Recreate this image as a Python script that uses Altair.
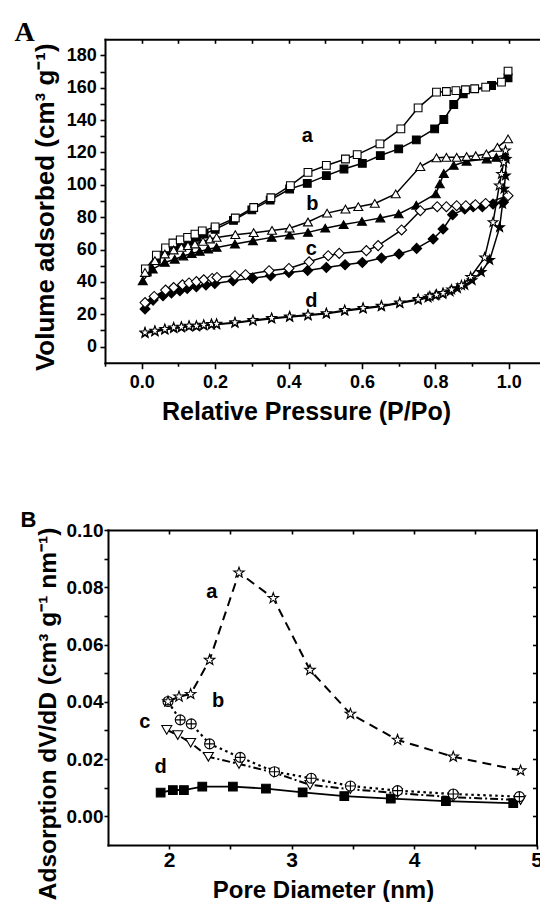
import altair as alt
import pandas as pd

# ---------------- Panel A : N2 sorption isotherms ----------------
# series a (squares): open = upper branch, filled = lower branch
a_open_p = [0.01, 0.04, 0.065, 0.085, 0.105, 0.125, 0.145, 0.165, 0.20, 0.255, 0.305, 0.352, 0.405, 0.453, 0.503, 0.555, 0.587, 0.649, 0.706, 0.753, 0.803, 0.830, 0.856, 0.882, 0.907, 0.937, 0.980, 0.998]
a_open_v = [48, 56.5, 61, 64, 66, 67.5, 69.5, 71.5, 74, 79.5, 86, 92, 99.5, 107.7, 112, 116, 118.7, 125.3, 134.6, 147.6, 157.3, 157.7, 158.3, 158.8, 159.4, 160.4, 163.5, 170.3]
a_fill_p = [0.015, 0.04, 0.065, 0.09, 0.11, 0.13, 0.15, 0.17, 0.20, 0.25, 0.30, 0.35, 0.403, 0.451, 0.503, 0.551, 0.601, 0.650, 0.700, 0.748, 0.798, 0.823, 0.850, 0.876, 0.953, 0.998]
a_fill_v = [46, 54, 59, 62, 64, 65.5, 67.5, 69.5, 72.5, 78, 84.5, 90.5, 97.4, 100.9, 105.7, 109.8, 113.3, 118.1, 122.2, 127.8, 134.6, 140.4, 149.7, 156.3, 161.4, 166.2]
# series b (triangles)
b_open_p = [0.009, 0.036, 0.063, 0.087, 0.108, 0.126, 0.145, 0.167, 0.186, 0.204, 0.255, 0.305, 0.355, 0.403, 0.453, 0.505, 0.555, 0.59, 0.635, 0.692, 0.759, 0.803, 0.830, 0.858, 0.885, 0.910, 0.939, 0.969, 0.998]
b_open_v = [45.8, 53.1, 57.2, 59.7, 61.3, 62.4, 63.4, 65, 66.5, 67.5, 69.2, 70.4, 71.8, 73.2, 77, 82.5, 85, 86.5, 88.5, 94.4, 111.3, 116.7, 117, 117, 117.5, 118, 119.1, 123.2, 128.4]
b_fill_p = [0.003, 0.03, 0.063, 0.09, 0.113, 0.136, 0.158, 0.181, 0.204, 0.254, 0.303, 0.354, 0.403, 0.453, 0.5, 0.55, 0.6, 0.65, 0.7, 0.748, 0.801, 0.812, 0.823, 0.85, 0.885, 0.94, 0.966, 0.99]
b_fill_v = [40.7, 47.9, 52, 54, 56, 57.5, 58.8, 60.2, 61.3, 63.4, 65.4, 67.5, 69, 70.6, 73.2, 75.4, 77.4, 79.5, 82, 87.4, 94.4, 100.6, 107, 112, 114.6, 116, 117, 118.5]
# series c (diamonds)
c_open_p = [0.009, 0.034, 0.065, 0.087, 0.111, 0.129, 0.149, 0.169, 0.192, 0.205, 0.254, 0.283, 0.347, 0.401, 0.456, 0.508, 0.538, 0.612, 0.644, 0.708, 0.759, 0.805, 0.830, 0.858, 0.883, 0.909, 0.937, 0.998]
c_open_v = [27.2, 31, 34.9, 36.5, 38.2, 39.3, 40.2, 41.3, 42.1, 42.7, 43.8, 44.4, 46.9, 48.3, 52.4, 56.2, 57.6, 59.3, 62.4, 72.1, 84, 86.5, 86.5, 87.1, 87.1, 87.7, 88.5, 93.3]
c_fill_p = [0.009, 0.031, 0.058, 0.081, 0.104, 0.124, 0.149, 0.175, 0.199, 0.249, 0.302, 0.351, 0.401, 0.452, 0.503, 0.554, 0.601, 0.653, 0.701, 0.749, 0.794, 0.821, 0.847, 0.880, 0.903, 0.928, 0.957, 0.985]
c_fill_v = [23.2, 28.7, 31.4, 33.1, 34.5, 35.9, 37, 38, 39, 40.7, 42.3, 43.8, 45.8, 47, 48.9, 50.6, 52, 54.7, 57.2, 60.7, 66.5, 72.7, 81.5, 85.1, 86.5, 86.5, 88.2, 89.2]
# series d (stars)
d_open_p = [0.009, 0.036, 0.063, 0.087, 0.108, 0.129, 0.149, 0.169, 0.19, 0.204, 0.254, 0.303, 0.354, 0.403, 0.453, 0.503, 0.553, 0.603, 0.653, 0.703, 0.753, 0.785, 0.803, 0.821, 0.844, 0.871, 0.896, 0.934, 0.957, 0.974, 0.980, 0.986, 0.991]
d_open_v = [8.7, 9.7, 10.8, 11.8, 12.2, 12.8, 12.8, 13.4, 13.9, 14, 14.9, 16.3, 17.6, 18.6, 19.6, 20.6, 22.5, 23.8, 25.2, 27.2, 29.3, 31, 32, 33, 35.2, 37.8, 43, 55, 76.8, 99.5, 106.7, 113.9, 121.2]
d_fill_p = [0.009, 0.036, 0.063, 0.087, 0.108, 0.129, 0.149, 0.169, 0.19, 0.204, 0.254, 0.303, 0.354, 0.403, 0.453, 0.503, 0.553, 0.603, 0.653, 0.703, 0.753, 0.78, 0.80, 0.82, 0.84, 0.86, 0.88, 0.90, 0.925, 0.948, 0.975, 0.983, 0.987, 0.991, 0.993]
d_fill_v = [8.2, 9.2, 10.3, 11.2, 11.7, 12.3, 12.4, 12.9, 13.4, 13.6, 14.5, 15.9, 17.2, 18.2, 19.2, 20.2, 22, 23.4, 24.8, 26.7, 28.8, 30.2, 31.5, 32.5, 34, 36, 38, 41, 46, 53.5, 73.7, 88.2, 97.5, 105.7, 116]

A_tags = ["a", "b", "c", "d"]
A_tag_p = [0.451, 0.465, 0.462, 0.462]
A_tag_v = [126.7, 84.4, 56.6, 24.6]

A_x_major = [0.0, 0.2, 0.4, 0.6, 0.8, 1.0]
A_x_minor = [-0.1, 0.1, 0.3, 0.5, 0.7, 0.9]
A_x_top = [round(0.1 * i, 1) for i in range(0, 11)]
A_y_major = [0, 20, 40, 60, 80, 100, 120, 140, 160, 180]
A_y_minor = [10, 30, 50, 70, 90, 110, 130, 150, 170]

# ---------------- Panel B : pore size distribution ----------------
Ba_d = [1.99, 2.08, 2.175, 2.33, 2.57, 2.85, 3.15, 3.48, 3.865, 4.32, 4.87]
Ba_v = [0.0401, 0.0418, 0.0427, 0.0546, 0.0851, 0.0762, 0.0511, 0.0358, 0.0267, 0.0208, 0.0160]
Bb_d = [1.99, 2.09, 2.18, 2.33, 2.58, 2.86, 3.16, 3.48, 3.865, 4.32, 4.86]
Bb_v = [0.0401, 0.0337, 0.0323, 0.0253, 0.0206, 0.0156, 0.0133, 0.0106, 0.0090, 0.0078, 0.0069]
Bc_d = [1.98, 2.07, 2.175, 2.32, 2.57, 2.855, 3.15, 3.48, 3.865, 4.32, 4.87]
Bc_v = [0.0302, 0.0284, 0.0257, 0.0208, 0.0183, 0.0153, 0.0110, 0.0095, 0.0081, 0.0067, 0.0057]
Bd_d = [1.93, 2.03, 2.12, 2.27, 2.52, 2.79, 3.09, 3.43, 3.81, 4.26, 4.81]
Bd_v = [0.0083, 0.0092, 0.0092, 0.0104, 0.0104, 0.0097, 0.0084, 0.0071, 0.0062, 0.0053, 0.0046]

B_tags = ["a", "b", "c", "d"]
B_tag_d = [2.347, 2.40, 1.80, 1.93]
B_tag_v = [0.0762, 0.0383, 0.0308, 0.0150]

B_x_major = [2, 3, 4, 5]
B_x_minor = [2.5, 3.5, 4.5]
B_x_top = [2, 2.5, 3, 3.5, 4, 4.5]
B_y_major = [0.0, 0.02, 0.04, 0.06, 0.08, 0.10]
B_y_minor = [0.01, 0.03, 0.05, 0.07, 0.09]
B_y_right = [0.0, 0.01, 0.02, 0.03, 0.04, 0.05, 0.06, 0.07, 0.08, 0.09]

# ---------------- styling ----------------
FONT = "Liberation Sans"
STAR = "M0,-1L0.235,-0.324L0.951,-0.309L0.38,0.124L0.588,0.809L0,0.4L-0.588,0.809L-0.38,0.124L-0.951,-0.309L-0.235,-0.324Z"
CROSS_CIRCLE = "M-1,0A1,1,0,1,1,1,0A1,1,0,1,1,-1,0ZM-1,0L1,0M0,-1L0,1"


def sc(domain, rng):
    return alt.Scale(domain=domain, range=rng, nice=False, zero=False)


AXS = sc([-0.1, 1.085], [105, 540])
AYS = sc([-10, 190], [362.7, 39.3])
BXS = sc([1.5, 5.0], [108, 536.5])
BYS = sc([-0.01, 0.10], [845, 530])

BASE = dict(grid=False, domainColor="black", domainWidth=2, domainCap="square",
            tickColor="black", tickWidth=1.6, labelColor="black", labelFont=FONT,
            labelFontWeight="bold", titleColor="black", titleFont=FONT,
            titleFontWeight="bold", labelFlush=False, labelOverlap=False, zindex=1)


def ax(**kw):
    d = dict(BASE)
    d.update(kw)
    return alt.Axis(**d)


def series(xv, yv, xs, ys, shape, fill, size, **line_kw):
    df = pd.DataFrame({"x": xv, "y": yv})
    enc = dict(x=alt.X("x:Q", scale=xs, axis=None), y=alt.Y("y:Q", scale=ys, axis=None))
    line = alt.Chart(df).mark_line(color="black", **line_kw).encode(**enc)
    pts = alt.Chart(df).mark_point(shape=shape, filled=True, fill=fill, stroke="black",
                                   strokeWidth=1.1, size=size, opacity=1).encode(**enc)
    return line, pts


def axis_layer(xv, yv, xs, ys, xaxis, yaxis):
    df = pd.DataFrame({"x": xv[:1], "y": yv[:1]})
    return alt.Chart(df).mark_point(opacity=0).encode(
        x=alt.X("x:Q", scale=xs, axis=xaxis), y=alt.Y("y:Q", scale=ys, axis=yaxis))


def tags(t, xv, yv, xs, ys):
    df = pd.DataFrame({"x": xv, "y": yv, "t": t})
    return alt.Chart(df).mark_text(font=FONT, fontWeight="bold", fontSize=20, align="center",
                                   baseline="alphabetic", color="black").encode(
        x=alt.X("x:Q", scale=xs, axis=None), y=alt.Y("y:Q", scale=ys, axis=None), text="t:N")


lines, points = [], []
A_specs = [
    (a_fill_p, a_fill_v, "square", "black", 60), (a_open_p, a_open_v, "square", "white", 60),
    (b_fill_p, b_fill_v, "triangle-up", "black", 80), (b_open_p, b_open_v, "triangle-up", "white", 80),
    (c_fill_p, c_fill_v, "diamond", "black", 100), (c_open_p, c_open_v, "diamond", "white", 100),
    (d_fill_p, d_fill_v, STAR, "black", 100), (d_open_p, d_open_v, STAR, "white", 100),
]
for xv, yv, shp, fl, sz in A_specs:
    l, p = series(xv, yv, AXS, AYS, shp, fl, sz, strokeWidth=1.5)
    lines.append(l)
    points.append(p)

B_specs = [
    (Bd_d, Bd_v, "square", "black", 75, dict(strokeWidth=1.8)),
    (Bc_d, Bc_v, "triangle-down", "white", 100, dict(strokeWidth=2, strokeDash=[8, 3, 2, 3])),
    (Bb_d, Bb_v, CROSS_CIRCLE, "white", 100, dict(strokeWidth=2.2, strokeDash=[2.5, 3.5])),
    (Ba_d, Ba_v, STAR, "white", 120, dict(strokeWidth=2, strokeDash=[9, 6])),
]
for xv, yv, shp, fl, sz, lk in B_specs:
    l, p = series(xv, yv, BXS, BYS, shp, fl, sz, **lk)
    lines.append(l)
    points.append(p)

axes = [
    # Panel A
    axis_layer(a_open_p, a_open_v, AXS, AYS,
               ax(orient="bottom", offset=-539.3, values=A_x_major, format=".1f", labelFontSize=18,
                  tickSize=6, labelPadding=5, domain=True, title="Relative Pressure (P/Po)",
                  titleFontSize=25, titleX=306, titleY=37.1, titleAlign="center",
                  titleBaseline="top", titleAngle=0),
               ax(orient="left", offset=-105, values=A_y_major, format="d", labelFontSize=18,
                  tickSize=5, labelPadding=3.6, domain=True, title="Volume adsorbed (cm³ g⁻¹)",
                  titleFontSize=26, titleX=-52, titleY=206.7, titleAngle=270,
                  titleAlign="center", titleBaseline="alphabetic")),
    axis_layer(a_open_p, a_open_v, AXS, AYS,
               ax(orient="bottom", offset=-539.3, values=A_x_minor, labels=False, tickSize=3.5,
                  domain=False, title=None),
               ax(orient="left", offset=-105, values=A_y_minor, labels=False, tickSize=5,
                  domain=False, title=None)),
    axis_layer(a_open_p, a_open_v, AXS, AYS,
               ax(orient="top", offset=-39.3, domain=True, ticks=False, labels=False, title="A",
                  titleFont="Liberation Serif", titleFontSize=28, titleX=14, titleY=0.7,
                  titleAlign="left", titleBaseline="alphabetic", titleAngle=0),
               None),
    axis_layer(a_open_p, a_open_v, AXS, AYS,
               ax(orient="top", offset=-43.3, values=A_x_top, labels=False, tickSize=4,
                  domain=False, title=None),
               None),
    # Panel B
    axis_layer(Ba_d, Ba_v, BXS, BYS,
               ax(orient="bottom", offset=-57, values=B_x_major, format="d", labelFontSize=21,
                  tickSize=4, labelPadding=0, domain=True, title="Pore Diameter (nm)",
                  titleFontSize=24, titleX=323, titleY=33.2, titleAlign="center",
                  titleBaseline="top", titleAngle=0),
               ax(orient="left", offset=-108, values=B_y_major, format=".2f", labelFontSize=19,
                  tickSize=4, labelPadding=1, domain=True,
                  title="Adsorption dV/dD (cm³ g⁻¹ nm⁻¹)", titleFontSize=24.5, titleX=-53,
                  titleY=713.5, titleAngle=270, titleAlign="center", titleBaseline="alphabetic")),
    axis_layer(Ba_d, Ba_v, BXS, BYS,
               ax(orient="bottom", offset=-57, values=B_x_minor, labels=False, tickSize=4,
                  domain=False, title=None),
               ax(orient="left", offset=-108, values=B_y_minor, labels=False, tickSize=4,
                  domain=False, title=None)),
    axis_layer(Ba_d, Ba_v, BXS, BYS,
               ax(orient="top", offset=-530, domain=True, ticks=False, labels=False, title="B",
                  titleFontSize=22, titleX=20, titleY=-3.3, titleAlign="left",
                  titleBaseline="alphabetic", titleAngle=0),
               ax(orient="right", offset=-3.5, domain=True, ticks=False, labels=False, title=None)),
    axis_layer(Ba_d, Ba_v, BXS, BYS,
               ax(orient="top", offset=-534, values=B_x_top, labels=False, tickSize=4,
                  domain=False, title=None),
               ax(orient="right", offset=-7.5, values=B_y_right, labels=False, tickSize=4,
                  domain=False, title=None)),
]

text_layers = [tags(A_tags, A_tag_p, A_tag_v, AXS, AYS), tags(B_tags, B_tag_d, B_tag_v, BXS, BYS)]

chart = alt.layer(*(lines + points + text_layers + axes)).properties(
    width=540, height=902, padding=0, background="white",
    autosize=alt.AutoSizeParams(type="none"),
).resolve_scale(x="independent", y="independent").configure_view(stroke=None)

chart.save("out.html", embed_options={"renderer": "svg", "actions": False})
